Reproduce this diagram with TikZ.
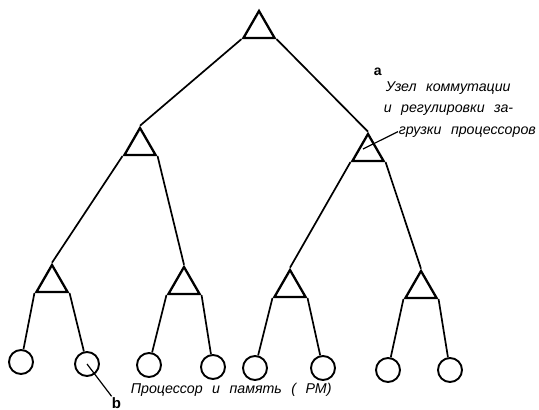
\documentclass[tikz,border=0pt]{standalone}
\usepackage{fontspec}
\setmainfont{Liberation Sans}[WordSpace=2.4]
\usetikzlibrary{shapes.geometric}
\begin{document}
\begin{tikzpicture}[x=1pt, y=-1pt, line width=1.7pt,
	uzel/.style={draw, regular polygon, regular polygon sides=3, minimum size=36pt, inner sep=0pt, line width=2.3pt},
	pm/.style={draw, circle, minimum size=24pt, inner sep=0pt, line width=1.9pt},
	txt/.style={font=\fontsize{14.2}{16}\selectfont\itshape, inner sep=0pt, anchor=base west}]
	\useasboundingbox (0,0) rectangle (539,410);
	% uzly
	\node[uzel] (u0) at (259,29) {};
	\node[uzel] (u1) at (140,146) {};
	\node[uzel] (u2) at (368,152) {};
	\node[uzel] (t1) at (52,283) {};
	\node[uzel] (t2) at (184,285) {};
	\node[uzel] (t3) at (290,288) {};
	\node[uzel] (t4) at (421,289) {};
	% processory
	\node[pm] (c1) at (21,362) {};
	\node[pm] (c2) at (87,364) {};
	\node[pm] (c3) at (149,365) {};
	\node[pm] (c4) at (213,367) {};
	\node[pm] (c5) at (255,368) {};
	\node[pm] (c6) at (323,368) {};
	\node[pm] (c7) at (388,370) {};
	\node[pm] (c8) at (450,370) {};
	\draw (u0.corner 2) -- (u1.corner 1);
	\draw (u0.corner 3) -- (u2.corner 1);
	\draw (u1.corner 2) -- (t1.corner 1);
	\draw (u1.corner 3) -- (t2.corner 1);
	\draw (u2.corner 2) -- (t3.corner 1);
	\draw (u2.corner 3) -- (t4.corner 1);
	\foreach \t/\l/\r in {t1/c1/c2, t2/c3/c4, t3/c5/c6, t4/c7/c8} {
		\draw (\t.corner 2) -- (\l);
		\draw (\t.corner 3) -- (\r);
	}
	% podpisi
	\node[txt, font=\fontsize{14}{16}\selectfont\bfseries] (la) at (373,75) {a};
	\node[txt] (la1) at (385,91) {Узел коммутации};
	\node[txt] (la2) at (383,112) {и регулировки за-};
	\node[txt] (la3) at (398,134) {грузки процессоров};
	\coordinate (ain) at (363,149);
	\draw[line width=1.2pt] (ain) -- (la3.west);
	\node[txt] (lp) at (130,393) {Процессор и память ( РМ)};
	\node[txt, font=\fontsize{15}{16}\selectfont\bfseries] (lb) at (111,408) {b};
	\draw[line width=1.2pt] (c2.center) -- (lb);
\end{tikzpicture}
\end{document}
